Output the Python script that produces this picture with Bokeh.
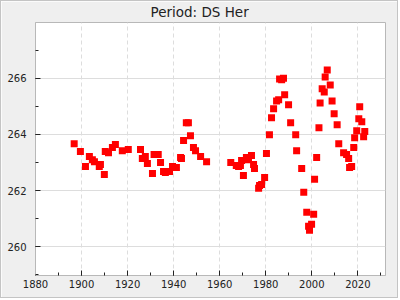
from bokeh.plotting import figure
from bokeh.models import Range1d, SingleIntervalTicker
from bokeh.embed import file_html
from bokeh.resources import INLINE

years = [1896.8, 1899.5, 1901.7, 1903.4, 1904.7, 1905.6, 1907.7, 1908.2, 1909.9, 1910.3,
         1911.7, 1913.4, 1914.7, 1917.7, 1920.3, 1925.6, 1926.4, 1927.7, 1928.6, 1930.8,
         1931.5, 1933.3, 1934.3, 1935.6, 1936.4, 1938.2, 1939.5, 1941.2, 1943.0, 1943.4,
         1944.3, 1945.5, 1946.4, 1947.3, 1948.6, 1949.5, 1951.7, 1954.3, 1964.8, 1967.2,
         1968.2, 1969.0, 1969.5, 1970.3, 1971.6, 1972.5, 1973.8, 1974.7, 1975.1, 1976.9,
         1977.3, 1978.2, 1979.5, 1980.3, 1981.6, 1982.5, 1983.4, 1984.7, 1985.6, 1986.0,
         1986.9, 1987.7, 1988.2, 1989.9, 1990.8, 1993.0, 1993.4, 1995.6, 1996.5, 1997.8,
         1998.6, 1999.0, 1999.9, 2000.8, 2001.2, 2002.1, 2003.1, 2003.6, 2004.5, 2005.4,
         2005.8, 2006.7, 2008.0, 2008.8, 2009.7, 2011.0, 2011.7, 2013.8, 2015.1, 2016.0,
         2016.4, 2017.3, 2018.2, 2018.6, 2019.5, 2020.4, 2020.8, 2021.7, 2022.5, 2023.0]

periods = [263.67, 263.39, 262.86, 263.21, 263.10, 263.03, 262.86, 262.93, 262.57, 263.39,
           263.35, 263.53, 263.64, 263.42, 263.46, 263.46, 263.14, 263.21, 262.96, 262.61,
           263.28, 263.28, 263.00, 262.68, 262.64, 262.68, 262.86, 262.82, 263.18, 263.14,
           263.78, 264.41, 264.41, 263.95, 263.53, 263.42, 263.21, 263.03, 263.00, 262.89,
           262.86, 262.89, 263.07, 262.54, 263.18, 263.10, 263.25, 262.93, 262.79, 262.08,
           262.18, 262.22, 262.47, 263.32, 263.99, 264.59, 264.91, 265.19, 265.23, 265.97,
           265.94, 266.00, 265.41, 265.05, 264.41, 263.99, 263.42, 262.79, 261.94, 261.23,
           260.73, 260.59, 260.80, 261.16, 262.40, 263.18, 264.24, 265.12, 265.62, 265.51,
           266.04, 266.29, 265.76, 265.19, 264.73, 264.34, 263.67, 263.35, 263.28, 263.14,
           262.82, 262.86, 263.53, 263.88, 264.13, 264.56, 264.98, 264.45, 263.92, 264.10]

title_text = "Period: DS Her"

p = figure(width=398, height=298, output_backend="svg", toolbar_location=None,
           x_range=Range1d(1880, 2032), y_range=Range1d(258.98, 267.98),
           min_border_left=34, min_border_right=14, min_border_top=21, min_border_bottom=24,
           styles={"border": "1px solid #c4c4c4"})

p.title.text = title_text
p.title.align = "left"
p.title.offset = 115
p.title.text_font = "DejaVu Sans"
p.title.text_font_size = "13.5px"
p.title.text_font_style = "normal"
p.title.text_color = "#222222"
p.title.vertical_align = "top"
p.title.standoff = 2
p.title.padding = 0

p.border_fill_color = "#efefef"
p.background_fill_color = "white"
p.outline_line_color = "#b8b8b8"
p.outline_line_width = 1

p.xaxis.ticker = SingleIntervalTicker(interval=20, num_minor_ticks=2)
p.yaxis.ticker = SingleIntervalTicker(interval=2, num_minor_ticks=2)

for ax in (p.xaxis, p.yaxis):
    ax.axis_line_color = "#b8b8b8"
    ax.major_tick_in = 5
    ax.major_tick_out = 0
    ax.minor_tick_in = 3
    ax.minor_tick_out = 0
    ax.major_tick_line_color = "#222222"
    ax.minor_tick_line_color = "#222222"
    ax.major_label_text_font = "DejaVu Sans"
    ax.major_label_text_font_size = "10px"
    ax.major_label_text_color = "#222222"

p.yaxis.major_label_standoff = 9
p.xaxis.major_label_standoff = 4

p.xgrid.grid_line_color = "#dddddd"
p.xgrid.grid_line_dash = "4 3"
p.ygrid.grid_line_color = "#dddddd"

p.scatter(years, periods, marker="square", size=7, fill_color="#ff0000", line_color=None)

open("out.html", "w").write(file_html(p, INLINE))
